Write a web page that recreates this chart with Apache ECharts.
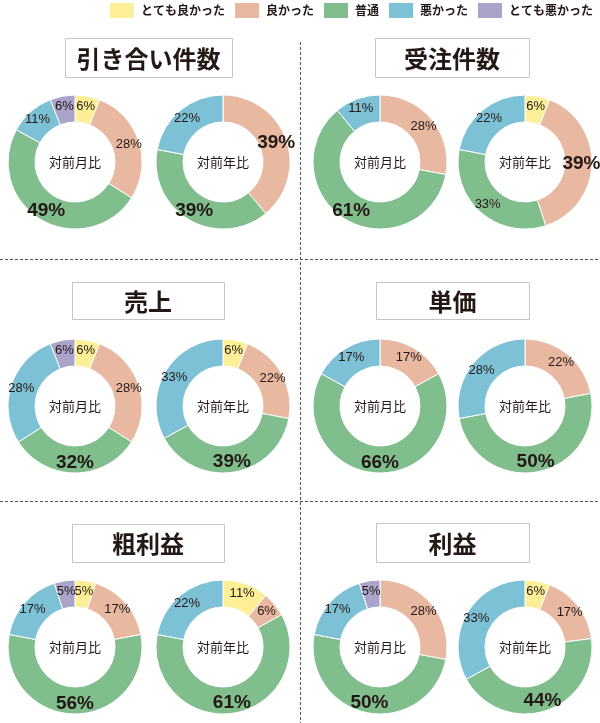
<!DOCTYPE html>
<html lang="ja">
<head>
    <meta charset="UTF-8">
    <title>評価の内訳</title>
    <script src="https://cdn.jsdelivr.net/npm/echarts@6/dist/echarts.min.js"></script>
    <style>
        html, body { margin: 0; padding: 0; background: #fff; }
    </style>
</head>
<body>
<div id="main" style="width: 600px;height:723px;"></div>

<script type="text/javascript">
    // 凡例の評価カテゴリ
    var categories = ['とても良かった', '良かった', '普通', '悪かった', 'とても悪かった'];
    var panelTitles = ['引き合い件数', '受注件数', '売上', '単価', '粗利益', '利益'];
    var compareNames = ['対前月比', '対前年比'];

    // 各パネルの割合(%)、categoriesの順
    var monthValues = [
        [6, 28, 49, 11, 6],
        [0, 28, 61, 11, 0],
        [6, 28, 32, 28, 6],
        [0, 17, 66, 17, 0],
        [5, 17, 56, 17, 5],
        [0, 28, 50, 17, 5]
    ];
    var yearValues = [
        [0, 39, 39, 22, 0],
        [6, 39, 33, 22, 0],
        [6, 22, 39, 33, 0],
        [0, 22, 50, 28, 0],
        [11, 6, 61, 22, 0],
        [6, 17, 44, 33, 0]
    ];

    var colors = ['#fdee98', '#e8b8a0', '#81be8e', '#7cc1d6', '#aaa3ca'];
    var textColor = '#231815';
    var jpFont = '"Noto Sans CJK JP", sans-serif';

    // レイアウト
    var donutX = [[75, 223], [380, 525]];
    var donutY = [162, 406, 647];
    var boxes = [
        [65, 38, 167, 39], [375, 38, 154, 39],
        [72, 282, 152, 37], [376, 282, 153, 37],
        [72, 524, 152, 38], [376, 523, 153, 39]
    ];

    function buildData(values) {
        var max = Math.max.apply(null, values);
        var data = [];
        values.forEach(function (v, i) {
            if (!v) return;
            var item = { name: categories[i], value: v, itemStyle: { color: colors[i] } };
            if (v === max) item.label = { fontSize: 19, fontWeight: 'bold' };
            data.push(item);
        });
        return data;
    }

    var series = [];
    var graphic = [];

    // 区切りの破線
    var dash = { stroke: '#555', lineWidth: 1, lineDash: [3, 2] };
    graphic.push({ type: 'line', shape: { x1: 0, y1: 259.5, x2: 600, y2: 259.5 }, style: dash, silent: true });
    graphic.push({ type: 'line', shape: { x1: 0, y1: 501.5, x2: 600, y2: 501.5 }, style: dash, silent: true });
    graphic.push({ type: 'line', shape: { x1: 300.5, y1: 42, x2: 300.5, y2: 723 }, style: dash, silent: true });

    panelTitles.forEach(function (title, p) {
        var col = p % 2, row = Math.floor(p / 2);
        var b = boxes[p];
        graphic.push({
            type: 'rect',
            shape: { x: b[0] + 0.5, y: b[1] + 0.5, width: b[2], height: b[3] },
            style: { fill: '#fff', stroke: '#c4c4c4', lineWidth: 1 },
            silent: true
        });
        graphic.push({
            type: 'text',
            x: b[0] + b[2] / 2, y: b[1] + b[3] / 2 + 1,
            style: {
                text: title, fill: textColor,
                font: 'bold 24px ' + jpFont,
                align: 'center', verticalAlign: 'middle',
                textAlign: 'center', textVerticalAlign: 'middle'
            },
            silent: true
        });

        [monthValues[p], yearValues[p]].forEach(function (values, k) {
            var cx = donutX[col][k], cy = donutY[row];
            series.push({
                type: 'pie',
                name: title + compareNames[k],
                radius: [40, 67],
                center: [cx, cy],
                startAngle: 90,
                clockwise: true,
                silent: true,
                animation: false,
                avoidLabelOverlap: false,
                labelLayout: { hideOverlap: false },
                itemStyle: { borderColor: '#fff', borderWidth: 1 },
                label: {
                    show: true,
                    position: 'inside',
                    formatter: '{c}%',
                    color: textColor,
                    fontSize: 13,
                    fontFamily: '"Liberation Sans", Arial, sans-serif'
                },
                labelLine: { show: false },
                emphasis: { disabled: true },
                data: buildData(values)
            });
            graphic.push({
                type: 'text',
                x: cx, y: cy,
                style: {
                    text: compareNames[k], fill: textColor,
                    font: '13px ' + jpFont,
                    align: 'center', verticalAlign: 'middle',
                    textAlign: 'center', textVerticalAlign: 'middle'
                },
                silent: true
            });
        });
    });

    var myChart = echarts.init(document.getElementById('main'));

    var option = {
        animation: false,
        legend: {
            data: categories,
            left: 110,
            top: 3,
            width: 490,
            padding: 0,
            icon: 'rect',
            itemWidth: 24,
            itemHeight: 15,
            itemGap: 10,
            selectedMode: false,
            itemStyle: { borderWidth: 0 },
            textStyle: {
                color: textColor,
                fontSize: 12,
                fontWeight: 'bold',
                fontFamily: jpFont,
                padding: [0, 0, 0, 2]
            }
        },
        graphic: graphic,
        series: series
    };

    myChart.setOption(option);
</script>
</body>
</html>
